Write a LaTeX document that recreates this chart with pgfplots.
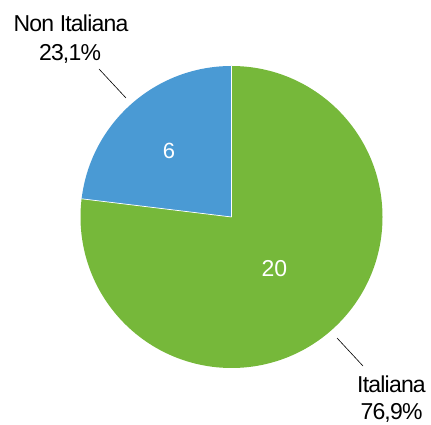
\documentclass[border=0pt]{standalone}
\usepackage{pgfplots}
\usepackage{pgfplotstable}
\pgfplotsset{compat=1.18}
\usepackage{fontspec}
\setmainfont{Liberation Sans}
\newfontfamily\lblfont[LetterSpace=-3.5]{Liberation Sans}
\definecolor{pieblue}{RGB}{74,154,212}
\definecolor{piegreen}{RGB}{118,184,58}
\pgfplotstableread{
label value
Italiana 20
NonItaliana 6
}\piedata
\begin{document}
\begin{tikzpicture}
\pgfplotstablegetelem{0}{value}\of\piedata \let\vA\pgfplotsretval
\pgfplotstablegetelem{1}{value}\of\piedata \let\vB\pgfplotsretval
\pgfmathsetmacro{\tot}{\vA+\vB}
\pgfmathsetmacro{\endA}{90-360*\vA/\tot}
\pgfmathsetmacro{\endB}{90+360*\vB/\tot}
\begin{axis}[x=1pt,y=1pt,xmin=0,xmax=431,ymin=0,ymax=425,scale only axis,axis lines=none,clip=false]
\path (axis cs:0,0) rectangle (axis cs:431,425);
\fill[piegreen] (axis cs:231.5,208) -- ++(90:151pt) arc[start angle=90,end angle=\endA,radius=151pt] -- cycle;
\fill[pieblue] (axis cs:231.5,208) -- ++(90:151pt) arc[start angle=90,end angle=\endB,radius=151pt] -- cycle;
\draw[white,line width=0.7pt] (axis cs:231.5,208) -- ++(90:151pt);
\draw[white,line width=0.7pt] (axis cs:231.5,208) -- ++(\endB:151pt);
\node[white,font=\fontsize{22}{26}\selectfont] at (axis cs:169,274) {\vB};
\node[white,font=\fontsize{23}{26}\selectfont] at (axis cs:274.5,156) {\vA};
\draw[black,line width=0.6pt] (axis cs:99,356) -- (axis cs:126,327);
\draw[black,line width=0.6pt] (axis cs:337,87) -- (axis cs:363,59);
\node[anchor=base,font=\lblfont\fontsize{23}{26}\selectfont,inner sep=0pt] at (axis cs:71,393) {Non Italiana};
\node[anchor=base,font=\lblfont\fontsize{23}{26}\selectfont,inner sep=0pt] at (axis cs:70,364) {23,1\%};
\node[anchor=base,font=\lblfont\fontsize{23}{26}\selectfont,inner sep=0pt] at (axis cs:391.5,32) {Italiana};
\node[anchor=base,font=\lblfont\fontsize{23}{26}\selectfont,inner sep=0pt] at (axis cs:391.5,5) {76,9\%};
\end{axis}
\end{tikzpicture}
\end{document}
